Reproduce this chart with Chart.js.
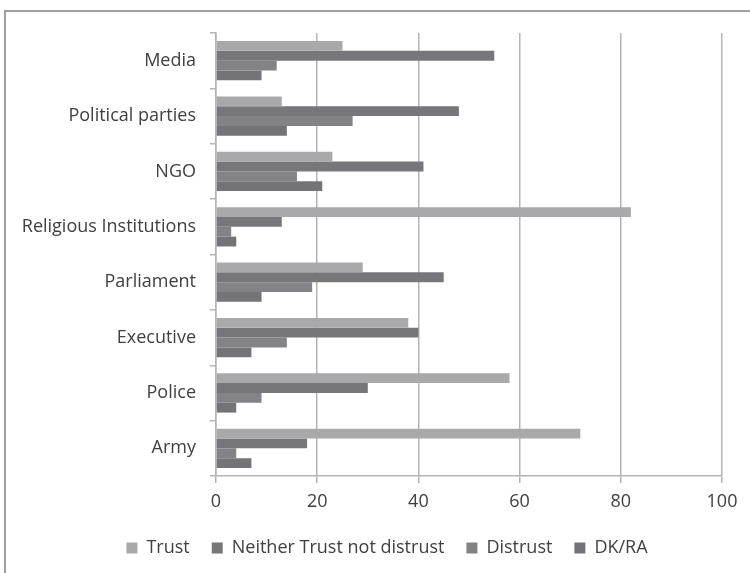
<!DOCTYPE html>
<html>
<head>
<meta charset="utf-8">
<script src="https://cdn.jsdelivr.net/npm/chart.js@4"></script>
<style>
  body { margin: 0; background: #fff; overflow: hidden; }
  #frame { position: absolute; left: 4px; top: 10px; width: 800px; height: 700px; border: 2px solid #a0a0a0; box-sizing: border-box; }
  #wrap { position: absolute; left: 0; top: 0; width: 750px; height: 573px; }
</style>
</head>
<body>
<div id="frame"></div>
<div id="wrap"><canvas id="c" width="750" height="573"></canvas></div>
<script>
const institutions = ['Media', 'Political parties', 'NGO', 'Religious Institutions', 'Parliament', 'Executive', 'Police', 'Army'];
const trust     = [25, 13, 23, 82, 29, 38, 58, 72];
const neither   = [55, 48, 41, 13, 45, 40, 30, 18];
const distrust  = [12, 27, 16, 3, 19, 14, 9, 4];
const dkra      = [9, 14, 21, 4, 9, 7, 4, 7];
const xTicks    = [0, 20, 40, 60, 80, 100];

const txt = '#404040';
const line = '#b4b4b4';
const fnt = { family: 'Open Sans', size: 18 };

// legend sits a little right of centre in the original
const shiftLegend = {
  id: 'shiftLegend',
  afterLayout(chart) { chart.legend.left += 52; }
};

new Chart(document.getElementById('c'), {
  type: 'bar',
  data: {
    labels: institutions,
    datasets: [
      { label: 'Trust', data: trust, backgroundColor: '#a9a9ab' },
      { label: 'Neither Trust not distrust', data: neither, backgroundColor: '#77777b' },
      { label: 'Distrust', data: distrust, backgroundColor: '#838387' },
      { label: 'DK/RA', data: dkra, backgroundColor: '#747478' }
    ]
  },
  plugins: [shiftLegend],
  options: {
    indexAxis: 'y',
    responsive: false,
    animation: false,
    layout: { padding: { top: 33, right: 28, left: 0, bottom: 6 } },
    datasets: { bar: { categoryPercentage: 0.71, barPercentage: 1.0 } },
    scales: {
      x: {
        min: 0, max: 100,
        afterBuildTicks: s => { s.ticks = xTicks.map(v => ({ value: v })); },
        afterFit: s => { s.height = 41; },
        border: { color: line, width: 1.5 },
        grid: { color: line, lineWidth: 1.5, tickLength: 7 },
        ticks: { color: txt, font: fnt, padding: 8 }
      },
      y: {
        afterFit: s => { s.width = 216; },
        border: { color: line, width: 1.5 },
        grid: { drawOnChartArea: false, color: line, lineWidth: 1.5, tickLength: 6 },
        ticks: { color: txt, font: fnt, padding: 14 }
      }
    },
    plugins: {
      legend: {
        position: 'bottom',
        labels: { color: txt, font: fnt, boxWidth: 11, boxHeight: 11, padding: 22 }
      },
      tooltip: { enabled: false }
    }
  }
});
</script>
</body>
</html>
